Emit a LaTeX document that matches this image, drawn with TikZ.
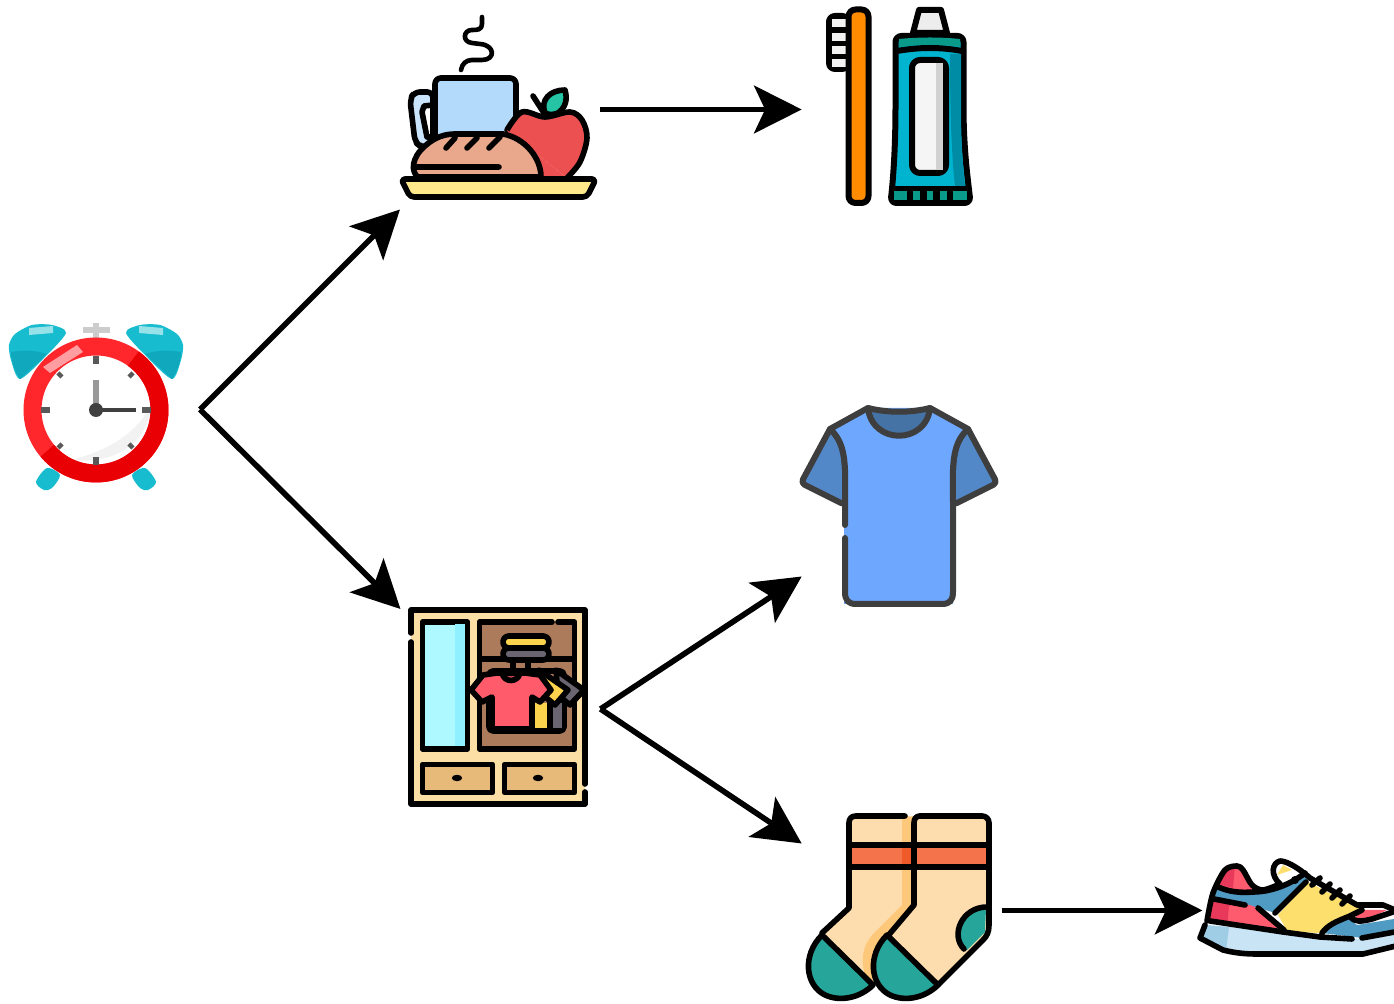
\documentclass[tikz,border=0pt]{standalone}
\usepackage{xcolor}
\usepackage{tikz}
\usetikzlibrary{arrows.meta,positioning}
\definecolor{ringred}{RGB}{255, 38, 44}
\definecolor{ringdark}{RGB}{232, 0, 4}
\definecolor{bellteal}{RGB}{24, 188, 207}
\definecolor{belldark}{RGB}{16, 168, 188}
\definecolor{mugblue}{RGB}{179, 217, 251}
\definecolor{applered}{RGB}{236, 80, 80}
\definecolor{leafgreen}{RGB}{36, 196, 164}
\definecolor{breadtan}{RGB}{233, 168, 140}
\definecolor{plateyellow}{RGB}{255, 233, 138}
\definecolor{brushorange}{RGB}{255, 140, 0}
\definecolor{tubeblue}{RGB}{0, 180, 208}
\definecolor{tubedark}{RGB}{0, 140, 165}
\definecolor{tubegreen}{RGB}{10, 154, 138}
\definecolor{woodlight}{RGB}{251, 223, 165}
\definecolor{woodmid}{RGB}{232, 186, 121}
\definecolor{wooddark}{RGB}{172, 123, 92}
\definecolor{mirrorblue}{RGB}{174, 249, 255}
\definecolor{mirrordark}{RGB}{143, 240, 255}
\definecolor{shirtred}{RGB}{255, 91, 107}
\definecolor{shirtyellow}{RGB}{252, 211, 77}
\definecolor{shirtgrey}{RGB}{106, 101, 112}
\definecolor{teeblue}{RGB}{110, 168, 254}
\definecolor{teesleeve}{RGB}{82, 136, 200}
\definecolor{teecollar}{RGB}{69, 115, 165}
\definecolor{teeline}{RGB}{62, 62, 62}
\definecolor{sockcream}{RGB}{253, 220, 173}
\definecolor{sockshade}{RGB}{254, 200, 122}
\definecolor{sockstripe}{RGB}{244, 115, 74}
\definecolor{stripedark}{RGB}{240, 90, 40}
\definecolor{sockteal}{RGB}{38, 166, 154}
\definecolor{shoeblue}{RGB}{79, 155, 196}
\definecolor{shoeyellow}{RGB}{253, 223, 109}
\definecolor{shoered}{RGB}{255, 91, 111}
\definecolor{shoedark}{RGB}{232, 57, 90}
\definecolor{solelight}{RGB}{200, 228, 245}
\definecolor{soledark}{RGB}{159, 205, 230}
\begin{document}
\begin{tikzpicture}[x=0.5pt,y=-0.5pt,>={Stealth[length=23.8pt,width=23.8pt,inset=5.5pt]},
icon/.style={inner sep=0pt,outer sep=0pt,minimum width=100pt,minimum height=100pt},
flow/.style={draw=black,line width=2.8pt},
ol/.style={draw=black,line width=2.8pt,line join=round,line cap=round},
heavy/.style={draw=black,line width=3pt,line join=round,line cap=round},
tee/.style={draw=teeline,line width=3pt,line join=round,line cap=round}]
\useasboundingbox (0,0) rectangle (1394,1004);
\node[icon](clock) at (100,409.5){};
\node[icon](meal) at (500,109.5){};
\node[icon](brush) at (901.7,109.5){};
\node[icon](wardrobe) at (500.5,709){};
\node[icon,minimum height=69pt](shirt) at (901.7,507.5){};
\node[icon,minimum height=67pt](socks) at (901.7,910.5){};
\node[icon,minimum height=67pt](shoe) at (1302.5,910.5){};
\draw[flow,->](clock.east)--(meal.south west);
\draw[flow,->](clock.east)--(wardrobe.north west);
\draw[flow,->](meal.east)--(brush.west);
\draw[flow,->](wardrobe.east)--(shirt.south west);
\draw[flow,->](wardrobe.east)--(socks.north west);
\draw[flow,->](socks.east)--(shoe.west);
% clock
\fill[bellteal] plot[smooth cycle,tension=.45] coordinates{(15,334)(32,325)(52,325)(66,333)(44,358)(20,379)(11,360)(9,345)};
\fill[bellteal] plot[smooth cycle,tension=.45] coordinates{(177,334)(160,325)(140,325)(126,333)(148,358)(172,379)(181,360)(183,345)};
\fill[belldark] (11,352) .. controls (22,350) and (35,350) .. (47,354)--(20,379) .. controls (14,370) and (11,360) .. (11,352)--cycle;
\fill[belldark] (181,352) .. controls (170,350) and (157,350) .. (145,354)--(172,379) .. controls (178,370) and (181,360) .. (181,352)--cycle;
\fill[bellteal!45] (29,328)--(53,326)--(53,333)--(29,335)--cycle;
\fill[bellteal!45] (163,328)--(139,326)--(139,333)--(163,335)--cycle;
\fill[bellteal] plot[smooth cycle,tension=.5] coordinates{(47,468)(60,475)(52,488)(44,490)(36,482)};
\fill[bellteal] plot[smooth cycle,tension=.5] coordinates{(145,468)(132,475)(140,488)(148,490)(156,482)};
\fill[gray!40] (83,327) rectangle (110,333);
\fill[gray!40] (93,323) rectangle (99,338);
\fill[white] (96,410) circle[radius=28pt];
\fill[black!5] (152,400) .. controls (150,440) and (120,465) .. (70,460) .. controls (115,450) and (145,425) .. (152,400)--cycle;
\draw[ringred,line width=9pt] (96,410) circle[radius=31.75pt];
\draw[ringdark,line width=9pt] (133.3,358.6) arc[start angle=54,end angle=-140,radius=31.75pt];
\fill[ringred!45] (43,367)--(77,345)--(83,352)--(50,373)--cycle;
\draw[black!65,line width=3pt] (96,356)--(96,364) (96,457)--(96,465) (41,410)--(50,410) (142,410)--(151,410);
\draw[black!65,line width=2.2pt] (58,373)--(62,377) (133,373)--(129,377) (58,448)--(62,444) (133,448)--(129,444);
\draw[black!40,line width=3pt] (96,380)--(96,410);
\draw[black!75,line width=2pt] (96,410)--(136,410);
\fill[black!75] (96,410) circle[radius=3.5pt];
% meal
\draw[ol,line width=2.3pt] (482,17)--(482,24) .. controls (482,30) and (477,30) .. (472,30) .. controls (463,30) and (462,42) .. (472,43)--(480,44) .. controls (495,45) and (496,60) .. (482,60)--(472,60) .. controls (466,60) and (462,64) .. (461,70);
\draw[ol,fill=mugblue!70!white,rounded corners=3pt] (433,92)--(414,92)--(410,100)--(415,142)--(421,147)--(433,147)--cycle;
\draw[ol,fill=white] (433,105)--(424,106)--(422,112)--(427,137)--(433,137)--cycle;
\draw[ol,fill=mugblue,rounded corners=3pt] (435,78) rectangle (516,145);
\draw[ol,fill=applered] plot[smooth,tension=.55] coordinates{(507,130)(522,112)(545,117)(570,112)(582,120)(587,138)(580,162)(567,178)};
\fill[applered] (507,130)--(567,178)--(530,178)--cycle;
\draw[ol] (533,96)--(544,113);
\draw[ol,fill=leafgreen] (545,113) .. controls (540,100) and (550,90) .. (565,90) .. controls (568,100) and (565,108) .. (558,113) .. controls (553,115) and (549,115) .. (545,113)--cycle;
\draw[ol,fill=breadtan] (418,177) .. controls (411,172) and (411,158) .. (425,146) .. controls (435,137) and (445,134) .. (455,134)--(503,134) .. controls (525,138) and (541,158) .. (541,177)--cycle;
\draw[ol] (446,148)--(455,138) (467,148)--(477,138) (489,148)--(500,137) (415,167)--(499,167);
\draw[ol,fill=plateyellow,rounded corners=2pt] (401,179)--(596,179)--(587,197)--(410,197)--cycle;
% brush and paste
\draw[heavy,fill=black,rounded corners=3pt] (829,16) rectangle (848,69);
\foreach \barY in {19,33,46,59}{\fill[black!5] (832,\barY) rectangle (846,\barY+8);}
\draw[heavy,fill=brushorange,rounded corners=3.5pt] (848.5,9.5) rectangle (868.5,203);
\draw[heavy,fill=black!7] (919,10)--(941,10)--(947,33)--(913,33)--cycle;
\draw[heavy,fill=tubeblue,rounded corners=3pt] (895.5,36)--(963.5,36)--(963.5,100) .. controls (963.5,150) and (968,180) .. (970.5,203)--(890.5,203) .. controls (893,180) and (895.5,150) .. (895.5,100)--cycle;
\fill[tubedark] (950,54)--(961,54)--(961,110) .. controls (961,140) and (963,170) .. (965,186)--(955,186) .. controls (951,150) and (950,100) .. (950,54)--cycle;
\fill[tubegreen] (899,39) .. controls (920,37) and (940,37) .. (960,39)--(960,47) .. controls (940,44) and (920,44) .. (899,47)--cycle;
\draw[heavy,line cap=butt] (897,51) .. controls (920,47) and (940,47) .. (962,51);
\fill[black] (892,186) rectangle (969,203);
\foreach \blockA/\blockB in {894/907,913/920,927/933,940/947,953/967}{\fill[tubegreen] (\blockA,191) rectangle (\blockB,200);}
\draw[heavy,fill=black!4,rounded corners=4pt] (912,60) rectangle (946,173);
\fill[black!18] (936,63) rectangle (943,170);
% wardrobe
\fill[woodlight] (411,610) rectangle (585,804);
\draw[ol] (411,633)--(411,610)--(585,610)--(585,784) (585,792)--(585,804)--(411,804)--(411,642);
\draw[ol,fill=mirrorblue] (422.5,622) rectangle (467.5,749);
\fill[mirrordark] (455,624.5) rectangle (465,746.5);
\fill[wooddark] (479.5,622) rectangle (574.5,749);
\draw[ol] (552,622)--(479.5,622)--(479.5,749)--(574.5,749)--(574.5,622)--(558,622) (480,659)--(574,659);
\draw[ol,fill=shirtgrey,rounded corners=3pt] (503,648) rectangle (549,660);
\draw[ol,fill=shirtyellow,rounded corners=3pt] (503,636) rectangle (549,648);
\draw[ol] (513,660)--(513,672) (528,660)--(528,672);
\draw[ol,rounded corners=2pt] (489,671) rectangle (564,731);
\fill[shirtyellow] (535,703) rectangle (548,728);
\fill[shirtgrey] (552,703) rectangle (562,728);
\draw[ol] (550,703)--(550,730);
\draw[ol,fill=shirtgrey] (556,670)--(584,690)--(570,705)--(558,695)--cycle;
\draw[ol,fill=shirtyellow] (539,670)--(568,690)--(555,705)--(543,695)--cycle;
\draw[ol,fill=shirtred] (497,673)--(525,673)--(540,675)--(551,690)--(540,702)--(532,697)--(532,729)--(492,729)--(492,697)--(482,702)--(471,690)--(483,675)--cycle;
\draw[ol,fill=shirtred!75!black] (502,673) .. controls (504,683) and (518,683) .. (520,673)--cycle;
\draw[ol,fill=woodmid] (422.5,764.5) rectangle (492.5,792.5);
\draw[ol,fill=woodmid] (504.5,764.5) rectangle (574.5,792.5);
\fill[black] (457,778) circle[x radius=2.6pt,y radius=1.6pt] (538,778) circle[x radius=2.6pt,y radius=1.6pt];
% shirt
\fill[teeblue] (844,430) rectangle (953,604);
\draw[tee,fill=teesleeve] (830,429)[rounded corners=2pt]--(801,483)--(845,505)[sharp corners] .. controls (845,470) and (848,445) .. (830,429)--cycle;
\draw[tee,fill=teesleeve] (968,429)[rounded corners=2pt]--(997,483)--(953,505)[sharp corners] .. controls (953,470) and (950,445) .. (968,429)--cycle;
\fill[teeblue] (830,429)--(868,408)--(930,408)--(968,429) .. controls (950,445) and (953,470) .. (953,505)--(844,505) .. controls (845,470) and (848,445) .. (830,429)--cycle;
\draw[tee,fill=teecollar] (868,408) .. controls (872,445) and (926,445) .. (930,408) .. controls (910,413) and (888,413) .. (868,408)--cycle;
\draw[tee] (830,429)--(868,408) (930,408)--(968,429) (830,429) .. controls (848,445) and (845,470) .. (845,505)--(845,525) (845,538)--(845,592) .. controls (845,600) and (848,604) .. (856,604)--(942,604) .. controls (950,604) and (953,600) .. (953,592)--(953,505) .. controls (953,470) and (950,445) .. (968,429);
% socks
\fill[sockcream] (849,816)--(914,816)--(914,905)--(888,937)--(872,985)--(822,937)--(849,908)--cycle;
\fill[sockshade] (902,817)--(914,817)--(914,905)--(880,942)--(872,982)--(866,978) .. controls (860,960) and (862,945) .. (875,932)--(902,905)--cycle;
\fill[sockstripe] (851,847) rectangle (902,866);
\fill[stripedark] (902,847) rectangle (913,866);
\draw[ol] (905,816)--(856,816) .. controls (851,816) and (849,819) .. (849,823)--(849,908)--(822,933);
\draw[ol] (849,845)--(914,845) (849,867)--(914,867);
\draw[ol,fill=sockteal] (822,935) .. controls (802,955) and (805,985) .. (825,995) .. controls (840,1002) and (860,998) .. (873,985)--cycle;
\draw[ol,fill=sockcream] (914,905)--(914,823) .. controls (914,819) and (916,816) .. (920,816)--(982,816) .. controls (986,816) and (989,819) .. (989,823)--(989,925) .. controls (989,932) and (987,936) .. (983,940)--(938,985)--(887,937)--cycle;
\fill[sockstripe] (917,847) rectangle (986,866);
\draw[ol] (914,845)--(989,845) (914,867)--(989,867);
\fill[sockteal] (986,909) .. controls (965,909) and (952,935) .. (965,948)--(967,950)--(985,932)--cycle;
\draw[ol] (987,907) .. controls (962,907) and (950,935) .. (964,949);
\draw[ol,fill=sockteal] (887,935) .. controls (867,955) and (870,985) .. (890,995) .. controls (905,1002) and (925,998) .. (938,985)--cycle;
% shoe
\begin{scope}
\clip (1190,850) rectangle (1394,970);
\fill[solelight] (1205,925)--(1283,931)--(1320,937)--(1362,939)--(1400,932)--(1400,945)--(1363,954)--(1257,954)--(1223,950)--(1200,938)--cycle;
\fill[soledark] (1205,925)--(1229,927)--(1226,951)--(1200,938)--cycle;
\fill[shoered] (1208,921)--(1213,893)--(1225,870)--(1235,866)--(1243,868)--(1252,885)--(1263,890)--(1255,908)--(1284,931)--cycle;
\fill[shoedark] (1208,921)--(1211,900)--(1230,903) .. controls (1228,910) and (1228,918) .. (1228,924)--cycle;
\fill[shoedark] (1217,884)--(1226,870)--(1235,866)--(1233,888)--cycle;
\fill[shoeblue] (1216,889)--(1253,892)--(1280,885)--(1305,875)--(1308,882)--(1275,913)--(1250,905)--(1214,899)--cycle;
\fill[shoeyellow] (1308,882)--(1357,907)--(1362,910)--(1347,918)--(1322,933)--(1288,932)--(1278,915)--cycle;
\fill[shoeblue] (1322,933)--(1330,925)--(1347,918)--(1357,925)--(1400,918)--(1400,932)--(1362,938)--cycle;
\fill[shoered] (1362,910)--(1387,910)--(1370,918)--(1353,920)--cycle;
\fill[shoeyellow] (1277,875)--(1283,865)--(1292,870)--cycle;
\draw[ol] (1205,925)--(1200,938)--(1223,950) .. controls (1235,953) and (1245,954) .. (1257,954)--(1363,954)--(1400,945);
\draw[ol] (1210,921)--(1283,932)--(1320,937)--(1352,939) (1362,938)--(1400,931);
\draw[ol] plot[smooth,tension=.5] coordinates{(1207,921)(1213,893)(1225,870)(1237,866)(1243,870)(1252,885)(1263,890)(1280,884)};
\draw[ol] (1280,884) .. controls (1270,875) and (1272,863) .. (1280,861) .. controls (1285,861) and (1295,865) .. (1310,878)--(1357,905)--(1383,905)--(1400,912);
\draw[ol] (1218,887) .. controls (1230,892) and (1240,893) .. (1253,892) .. controls (1270,892) and (1290,885) .. (1305,873);
\draw[ol] (1214,899)--(1245,905) (1258,908)--(1284,930) (1275,913)--(1306,882);
\draw[ol] (1322,933) .. controls (1328,925) and (1335,922) .. (1350,916)--(1362,910) (1350,917) .. controls (1355,922) and (1360,922) .. (1372,919)--(1396,911);
\draw[ol] (1312,885)--(1320,878) (1322,892)--(1330,884) (1332,898)--(1340,890) (1342,904)--(1350,896);
\fill[black] (1295,880) circle[radius=2pt];
\end{scope}
\end{tikzpicture}
\end{document}
